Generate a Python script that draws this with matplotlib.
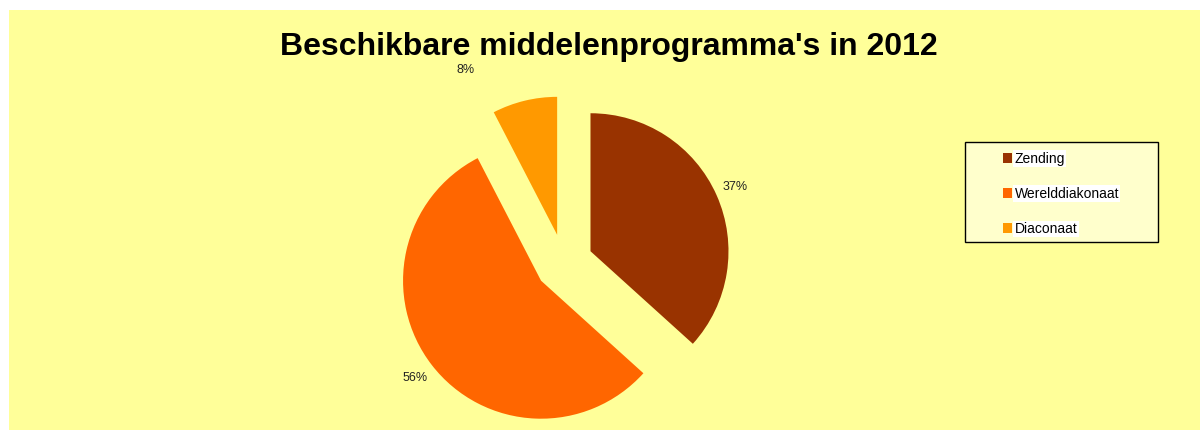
import matplotlib.pyplot as plt
from matplotlib.patches import Rectangle

plt.rcParams['font.family'] = ['Liberation Sans', 'DejaVu Sans']

categories = ['Zending', 'Werelddiakonaat', 'Diaconaat']
values = [36.7, 55.7, 7.6]
colors = ['#993300', '#FF6600', '#FF9900']
title = "Beschikbare middelenprogramma's in 2012"

W, H = 1200, 430
fig = plt.figure(figsize=(W / 100, H / 100), dpi=100)
fig.patch.set_facecolor('white')

# yellow chart area
fig.patches.append(Rectangle((9 / W, 0), 1 - 9 / W, 1 - 10 / H,
                             transform=fig.transFigure, facecolor='#FFFF99',
                             edgecolor='none', zorder=-2))

# pie axes: 1 unit = 138 px, centre at (564, 263) from top-left
R = 138
cx, cy = 564, H - 263
S = 3 * R
ax = fig.add_axes([(cx - S / 2) / W, (cy - S / 2) / H, S / W, S / H])
ax.set_zorder(1)

wedges, texts, autotexts = ax.pie(values, colors=colors, startangle=90,
                                  counterclock=False, explode=[0.21] * 3,
                                  autopct='%.0f%%', pctdistance=1.15,
                                  textprops={'fontsize': 9, 'color': '#222222'})
autotexts[2].set_position((-0.71, 1.40))
ax.set_xlim(-1.5, 1.5)
ax.set_ylim(-1.5, 1.5)
ax.set_aspect('equal')
ax.axis('off')

fig.text(609 / W, 1 - 47 / H, title, ha='center', va='center',
         fontsize=23, fontweight='bold', color='black')

# legend box
fig.patches.append(Rectangle((965 / W, 1 - 242 / H), 193 / W, 100 / H,
                             transform=fig.transFigure, facecolor='#FFFFCC',
                             edgecolor='black', linewidth=1, zorder=-1))
leg = fig.legend(wedges, categories, loc='upper left',
                 bbox_to_anchor=(993 / W, 1 - 142 / H), frameon=False,
                 fontsize=10, handlelength=0.7, handleheight=0.7,
                 handletextpad=0.15, labelspacing=1.52, borderpad=0.2)
leg.set_zorder(2)
for t in leg.get_texts():
    t.set_bbox(dict(facecolor='white', edgecolor='none', pad=1))

fig.savefig('out.png', dpi=100, facecolor=fig.get_facecolor())
